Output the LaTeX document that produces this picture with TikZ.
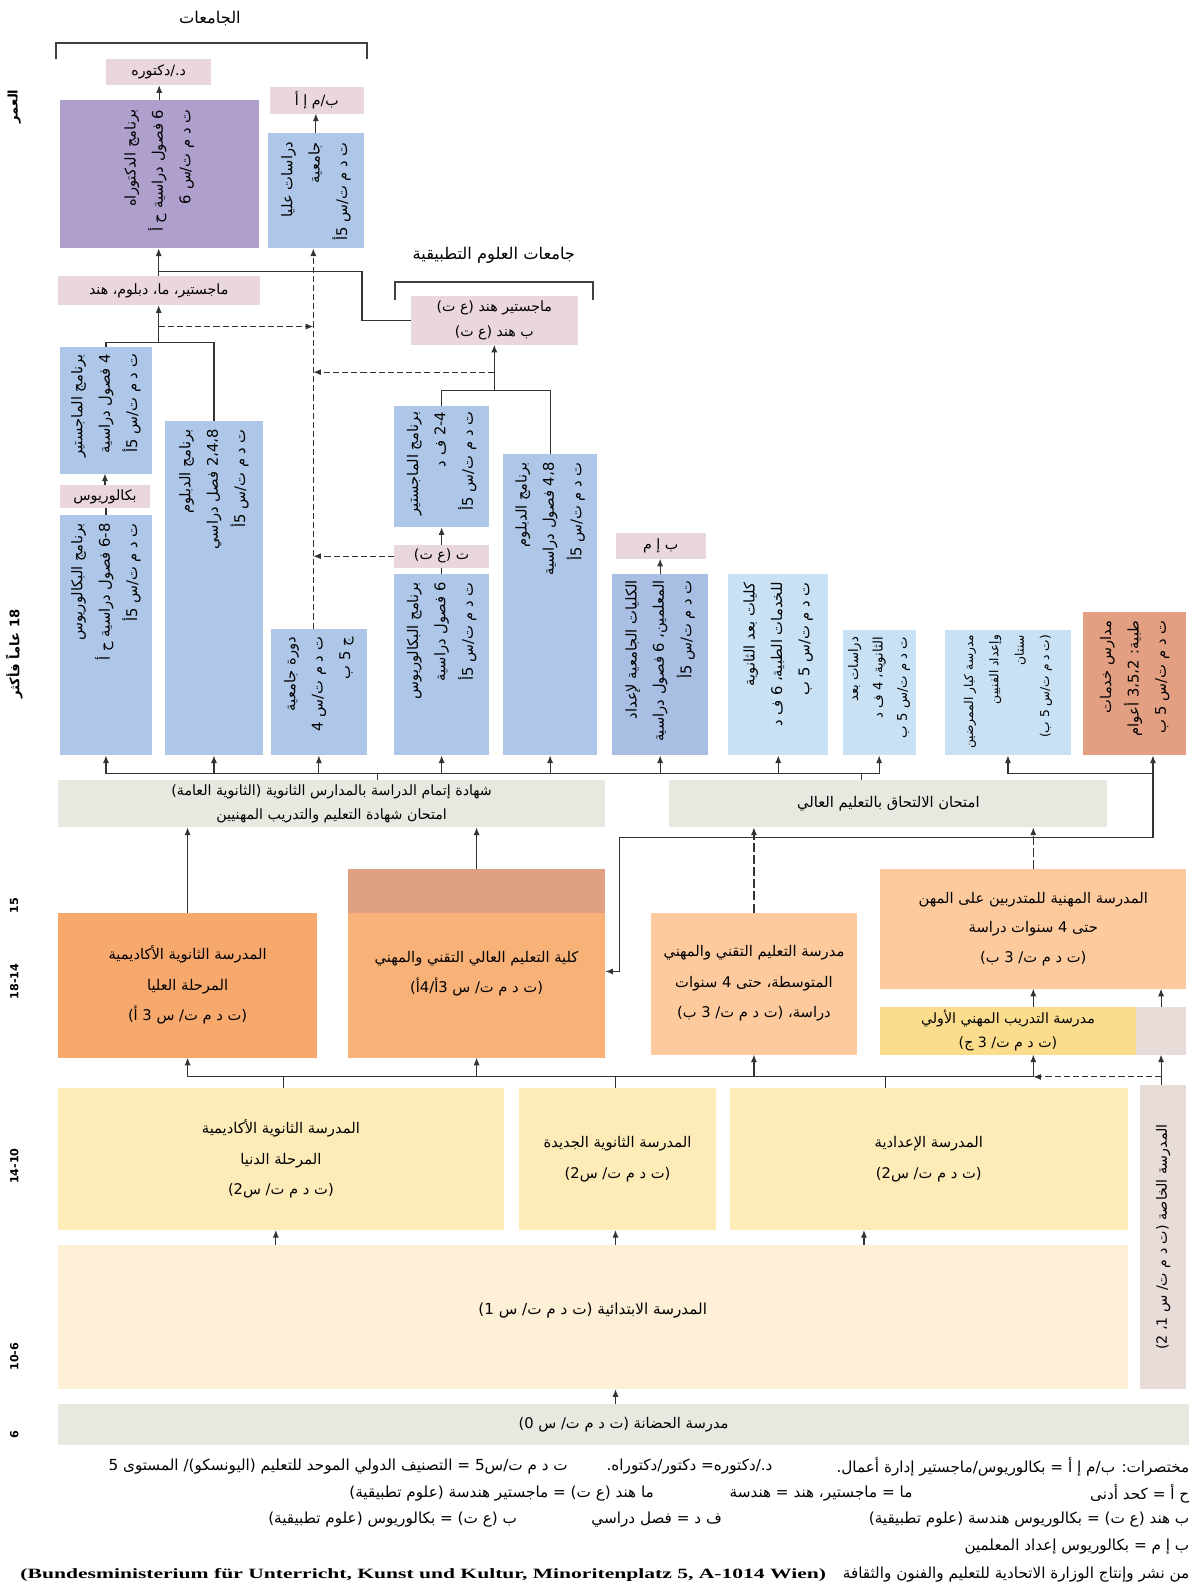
\documentclass[tikz,border=0pt]{standalone}
\usepackage{fontspec}
\setmainfont{DejaVu Sans}[Script=Arabic]
\newfontfamily\latinbf{Liberation Serif}
\TeXXeTstate=1
\usetikzlibrary{arrows.meta}
\pgfdeclarelayer{bg}
\pgfsetlayers{bg,main}
\newcommand\ar[1]{\beginR #1\endR}
\definecolor{cpink}{HTML}{EAD6DF}
\definecolor{cpurple}{HTML}{AF9FCC}
\definecolor{cblue}{HTML}{AEC7E8}
\definecolor{cbluedk}{HTML}{A8BEE3}
\definecolor{clight}{HTML}{C8E1F5}
\definecolor{csalmon}{HTML}{E29F82}
\definecolor{cgrey}{HTML}{E8E8E0}
\definecolor{corange}{HTML}{F7A86C}
\definecolor{cbhstop}{HTML}{DFA084}
\definecolor{cbhs}{HTML}{F8B278}
\definecolor{clorange}{HTML}{FDCA9D}
\definecolor{cyellow}{HTML}{FCDD8E}
\definecolor{cgreypink}{HTML}{E8DCD8}
\definecolor{cpale}{HTML}{FDEBB8}
\definecolor{cvpale}{HTML}{FDF0D6}
\definecolor{cline}{HTML}{333333}
\newcommand\bx[6]{\node[box, fill=#2, minimum width={(#5-#3)*1pt}, minimum height={(#6-#4)*1pt}] (#1) at (#3,#4) {};}
\begin{document}
\begin{tikzpicture}[x=1pt,y=-1pt,
  box/.style={draw=none, inner sep=0pt, outer sep=0pt, anchor=north west},
  conn/.style={draw=cline, line width=1.1pt},
  arr/.style={conn, -{Latex[length=7.5pt,width=6pt]}},
  dsh/.style={conn, dash pattern=on 6pt off 3pt},
  darr/.style={dsh, -{Latex[length=7.5pt,width=6pt]}},
  dlong/.style={conn, dash pattern=on 9pt off 3pt, -{Latex[length=7.5pt,width=6pt]}},
  vtext/.style={rotate=90, anchor=east, align=right, inner sep=0pt, font=\fontsize{14.5}{27}\selectfont},
  htext/.style={align=center, inner sep=0pt, font=\fontsize{14.5}{30}\selectfont},
  lab/.style={align=center, inner sep=0pt, font=\fontsize{14}{24}\selectfont},
  leg/.style={inner sep=0pt, anchor=east, font=\fontsize{15}{17}\selectfont},
  brk/.style={draw=black!75, line width=2pt},
  age/.style={rotate=90, inner sep=0pt, font=\bfseries\fontsize{11}{12}\selectfont}
]
\useasboundingbox[fill=white] (0,0) rectangle (1173,1568);

% ---------- boxes ----------
\bx{phdlab}{cpink}{105}{58}{208}{84}
\bx{phd}{cpurple}{59}{99}{255}{245}
\bx{mbalab}{cpink}{266}{86}{359}{112}
\bx{postgr}{cblue}{264}{131}{359}{245}
\bx{unimlab}{cpink}{57}{272}{256}{301}
\bx{fhmlab}{cpink}{405}{292}{570}{340}
\bx{unimaster}{cblue}{59}{342}{150}{467}
\bx{unibalab}{cpink}{59}{478}{148}{501}
\bx{uniba}{cblue}{59}{508}{150}{745}
\bx{unidipl}{cblue}{163}{415}{259}{745}
\bx{unikurs}{cblue}{267}{620}{362}{745}
\bx{fhmaster}{cblue}{389}{400}{482}{520}
\bx{fhbalab}{cpink}{389}{537}{482}{560}
\bx{fhba}{cblue}{389}{566}{482}{745}
\bx{fhdipl}{cblue}{496}{448}{589}{745}
\bx{phlab}{cpink}{607}{526}{696}{551}
\bx{ph}{cbluedk}{604}{566}{698}{745}
\bx{medcol}{clight}{718}{566}{817}{745}
\bx{postsec}{clight}{831}{621}{903}{745}
\bx{nurse}{clight}{932}{621}{1056}{745}
\bx{medsch}{csalmon}{1068}{604}{1170}{745}
\bx{matura}{cgrey}{57}{769}{597}{816}
\bx{studb}{cgrey}{660}{769}{1092}{816}
\bx{ahso}{corange}{57}{900}{313}{1043}
\bx{bhstop}{cbhstop}{343}{857}{597}{900}
\bx{bhs}{cbhs}{343}{900}{597}{1043}
\bx{fachs}{clorange}{642}{900}{845}{1040}
\bx{berufs}{clorange}{868}{857}{1170}{975}
\bx{lehre}{cyellow}{868}{993}{1120}{1040}
\bx{poly}{cgreypink}{1120}{993}{1170}{1040}
\bx{ahsu}{cpale}{57}{1073}{497}{1213}
\bx{nms}{cpale}{512}{1073}{706}{1213}
\bx{hs}{cpale}{720}{1073}{1112}{1213}
\bx{sonder}{cgreypink}{1124}{1070}{1170}{1370}
\bx{vs}{cvpale}{57}{1228}{1112}{1370}
\bx{kg}{cgrey}{57}{1385}{1173}{1425}

% ---------- titles and brackets ----------
\node[font=\fontsize{16}{18}\selectfont] (unis) at (207,18) {\ar{الجامعات}};
\draw[brk] (55,58) -- (55,42) -- (362,42) -- (362,58);
\node[font=\fontsize{16}{18}\selectfont] (fhs) at (487,252) {\ar{جامعات العلوم التطبيقية}};
\draw[brk] (390,296) -- (390,278) -- (585,278) -- (585,296);

% ---------- age axis ----------
\node[rotate=90, font=\bfseries\fontsize{13}{14}\selectfont] (ageT) at (14,105) {\ar{العمر}};
\node[rotate=90, font=\bfseries\fontsize{13}{14}\selectfont] (age18) at (14,645) {\ar{18 عاماً فأكثر}};
\node[age] (a15) at (14,893) {15};
\node[age] (a1418) at (14,968) {18-14};
\node[age] (a1014) at (14,1150) {14-10};
\node[age] (a610) at (14,1338) {10-6};
\node[age] (a6) at (14,1415) {6};

% ---------- label texts ----------
\node[lab] (phdlabT) at (phdlab) {\ar{د./دكتوره}};
\node[lab] (mbalabT) at (mbalab) {\ar{ب/م إ أ}};
\node[lab] (unimlabT) at (unimlab) {\ar{ماجستير، ما، دبلوم، هند}};
\node[lab] (fhmlabT) at (fhmlab) {\ar{ماجستير هند (ع ت)}\\\ar{ب هند (ع ت)}};
\node[lab] (unibalabT) at (unibalab) {\ar{بكالوريوس}};
\node[lab] (fhbalabT) at (fhbalab) {\ar{ت (ع ت)}};
\node[lab] (phlabT) at (phlab) {\ar{ب إ م}};

% ---------- rotated programme texts ----------
\node[vtext] (phdT) at ([yshift=-9pt]phd.north) {\ar{برنامج الدكتوراه}\\\ar{6 فصول دراسية ح أ}\\\ar{ت د م ت/س 6}};
\node[vtext] (postgrT) at ([yshift=-9pt]postgr.north) {\ar{دراسات عليا}\\\ar{جامعية}\\\ar{ت د م ت/س 5أ}};
\node[vtext] (unimasterT) at ([yshift=-7pt]unimaster.north) {\ar{برنامج الماجستير}\\\ar{4 فصول دراسية}\\\ar{ت د م ت/س 5أ}};
\node[vtext] (unibaT) at ([yshift=-8pt]uniba.north) {\ar{برنامج البكالوريوس}\\\ar{6-8 فصول دراسية ح أ}\\\ar{ت د م ت/س 5أ}};
\node[vtext] (unidiplT) at ([yshift=-8pt]unidipl.north) {\ar{برنامج الدبلوم}\\\ar{2،4،8 فصل دراسي}\\\ar{ت د م ت/س 5أ}};
\node[vtext] (unikursT) at ([yshift=-8pt]unikurs.north) {\ar{دورة جامعية}\\\ar{ت د م ت/س 4}\\\ar{ج 5 ب}};
\node[vtext] (fhmasterT) at ([yshift=-6pt]fhmaster.north) {\ar{برنامج الماجستير}\\\ar{2-4 ف د}\\\ar{ت د م ت/س 5أ}};
\node[vtext] (fhbaT) at ([yshift=-8pt]fhba.north) {\ar{برنامج البكالوريوس}\\\ar{6 فصول دراسية}\\\ar{ت د م ت/س 5أ}};
\node[vtext] (fhdiplT) at ([yshift=-8pt]fhdipl.north) {\ar{برنامج الدبلوم}\\\ar{4،8 فصول دراسية}\\\ar{ت د م ت/س 5أ}};
\node[vtext] (phT) at ([yshift=-6pt]ph.north) {\ar{الكليات الجامعية لإعداد}\\\ar{المعلمين، 6 فصول دراسية}\\\ar{ت د م ت/س 5أ}};
\node[vtext] (medcolT) at ([yshift=-8pt]medcol.north) {\ar{كليات بعد الثانوية}\\\ar{للخدمات الطبية، 6 ف د}\\\ar{ت د م ت/س 5 ب}};
\node[vtext, font=\fontsize{13}{24}\selectfont] (postsecT) at ([yshift=-7pt]postsec.north) {\ar{دراسات بعد}\\\ar{الثانوية، 4 ف د}\\\ar{ت د م ت/س 5 ب}};
\node[vtext, font=\fontsize{12}{25}\selectfont] (nurseT) at ([yshift=-5pt]nurse.north) {\ar{مدرسة كبار الممرضين}\\\ar{وإعداد الفنيين}\\\ar{سنتان}\\\ar{(ت د م ت/س 5 ب)}};
\node[vtext] (medschT) at ([yshift=-8pt]medsch.north) {\ar{مدارس خدمات}\\\ar{طبية: 3،5،2 أعوام}\\\ar{ت د م ت/س 5 ب}};

% ---------- horizontal texts ----------
\node[htext, font=\fontsize{14}{24}\selectfont] (maturaT) at (matura) {\ar{شهادة إتمام الدراسة بالمدارس الثانوية (الثانوية العامة)}\\\ar{امتحان شهادة التعليم والتدريب المهنيين}};
\node[htext] (studbT) at (studb) {\ar{امتحان الالتحاق بالتعليم العالي}};
\node[htext] (ahsoT) at (ahso) {\ar{المدرسة الثانوية الأكاديمية}\\\ar{المرحلة العليا}\\\ar{(ت د م ت/ س 3 أ)}};
\node[htext] (bhsT) at ([yshift=11pt]bhs.center) {\ar{كلية التعليم العالي التقني والمهني}\\\ar{(ت د م ت/ س 3أ/4أ)}};
\node[htext] (fachsT) at (fachs) {\ar{مدرسة التعليم التقني والمهني}\\\ar{المتوسطة، حتى 4 سنوات}\\\ar{دراسة، (ت د م ت/ 3 ب)}};
\node[htext, font=\fontsize{14.5}{29}\selectfont] (berufsT) at (berufs) {\ar{المدرسة المهنية للمتدربين على المهن}\\\ar{حتى 4 سنوات دراسة}\\\ar{(ت د م ت/ 3 ب)}};
\node[htext, font=\fontsize{14}{24}\selectfont] (lehreT) at (lehre) {\ar{مدرسة التدريب المهني الأولي}\\\ar{(ت د م ت/ 3 ج)}};
\node[htext] (ahsuT) at (ahsu) {\ar{المدرسة الثانوية الأكاديمية}\\\ar{المرحلة الدنيا}\\\ar{(ت د م ت/ س2)}};
\node[htext] (nmsT) at (nms) {\ar{المدرسة الثانوية الجديدة}\\\ar{(ت د م ت/ س2)}};
\node[htext] (hsT) at (hs) {\ar{المدرسة الإعدادية}\\\ar{(ت د م ت/ س2)}};
\node[htext, font=\fontsize{15}{30}\selectfont] (vsT) at ([yshift=7pt]vs.center) {\ar{المدرسة الابتدائية (ت د م ت/ س 1)}};
\node[htext] (kgT) at (kg) {\ar{مدرسة الحضانة (ت د م ت/ س 0)}};
\node[htext, rotate=90, font=\fontsize{14}{16}\selectfont] (sonderT) at (sonder) {\ar{المدرسة الخاصة (ت د م ت/ س 1، 2)}};

% ---------- coordinates ----------
\coordinate (dv) at (309,400);
\coordinate (jA) at (unimlab.south |- 0,338);
\coordinate (jF) at (fhmlab.south |- 0,385);
\coordinate (j1) at (357,268);
\coordinate (r1) at (0,763);
\coordinate (cR) at (1137,763);
\coordinate (kR) at (611,826);
\coordinate (bhsin) at (bhs.east |- 0,958);
\coordinate (tL) at (372,763);
\coordinate (tR) at (850,763);
\coordinate (r2) at (0,1062);
\coordinate (t1) at (280,1062);
\coordinate (t2) at (607,1062);
\coordinate (t3) at (873,1062);
\coordinate (a1) at (272,1220);
\coordinate (a2) at (607,1220);
\coordinate (a3) at (852,1220);

% ---------- connectors behind boxes ----------
\begin{pgfonlayer}{bg}
\draw[darr] (unibalab.east) -- (unibalab.east -| dv);
\end{pgfonlayer}

% ---------- upper connectors ----------
\draw[arr] (phd.north) -- (phd.north |- phdlab.south);
\draw[arr] (postgr.south |- mbalab.south) ++(0,19) -- (postgr.south |- mbalab.south);
\draw[arr] (unimlab.north) -- (unimlab.north |- phd.south);
\draw[conn] (fhmlab.west) -| (j1) -- (j1 -| unimlab.north);
\draw[darr] (dv |- unikurs.north) -- (dv |- postgr.south);
\draw[darr] (jA |- 0,322) -- (dv |- 0,322);
\draw[conn] (unimaster.north) |- (jA) -| (unidipl.north);
\draw[arr] (jA) -- (unimlab.south);
\draw[arr] (unibalab.north) -- (unibalab.north |- unimaster.south);
\draw[conn] (uniba.north) -- (uniba.north |- unibalab.south);
\draw[conn] (fhmaster.north) |- (jF) -| (fhdipl.north);
\draw[arr] (jF) -- (fhmlab.south);
\draw[darr] (jF |- 0,367) -- (dv |- 0,367);
\draw[darr] (fhbalab.west) -- (fhbalab.west -| dv);
\draw[arr] (fhbalab.north) -- (fhbalab.north |- fhmaster.south);
\draw[conn] (fhba.north) -- (fhba.north |- fhbalab.south);
\draw[arr] (ph.north) -- (ph.north |- phlab.south);

% ---------- row above exams ----------
\draw[conn] (uniba.south |- r1) -- (postsec.south |- r1);
\foreach \n in {uniba,unidipl,unikurs,fhba,fhdipl,ph,medcol,postsec}{
  \draw[arr] (\n.south |- r1) -- (\n.south);
}
\draw[conn] (nurse.south |- r1) -- (cR);
\draw[arr] (nurse.south |- r1) -- (nurse.south);
\draw[arr] (cR) -- (cR |- medsch.south);
\draw[arr] (cR) |- (kR) -- (kR |- bhsin) -- (bhsin);
\draw[conn] (matura.north -| tL) -- (tL);
\draw[conn] (studb.north -| tR) -- (tR);

% ---------- vocational to exams ----------
\draw[arr] (ahso.north) -- (ahso.north |- matura.south);
\draw[arr] (bhstop.north) -- (bhstop.north |- matura.south);
\draw[dlong] (fachs.north) -- (fachs.north |- studb.south);
\draw[dlong] (berufs.north) -- (berufs.north |- studb.south);

% ---------- row below vocational ----------
\draw[conn] (ahso.south |- r2) -- (berufs.south |- r2);
\draw[arr] (ahso.south |- r2) -- (ahso.south);
\draw[arr] (bhs.south |- r2) -- (bhs.south);
\draw[arr] (fachs.south |- r2) -- (fachs.south);
\draw[arr] (berufs.south |- r2) -- (berufs.south |- lehre.south);
\draw[arr] (lehre.north -| berufs.south) -- (berufs.south);
\draw[arr] (poly.north) -- (poly.north |- berufs.south);
\draw[arr] (poly.south |- sonder.north) -- (poly.south);
\draw[darr] (poly.south |- r2) -- (berufs.south |- r2);
\draw[conn] (ahsu.north -| t1) -- (t1);
\draw[conn] (nms.north -| t2) -- (t2);
\draw[conn] (hs.north -| t3) -- (t3);

% ---------- primary / kindergarten ----------
\draw[arr] (vs.north -| a1) -- (a1 |- ahsu.south);
\draw[arr] (vs.north -| a2) -- (a2 |- nms.south);
\draw[arr] (vs.north -| a3) -- (a3 |- hs.south);
\draw[arr] (kg.north -| a2) -- (a2 |- vs.south);

% ---------- legend ----------
\node[leg] (lg1a) at (1173,1446) {\ar{مختصرات: ب/م إ أ = بكالوريوس/ماجستير إدارة أعمال.}};
\node[leg] (lg1b) at (762,1446) {\ar{د./دكتوره= دكتور/دكتوراه.}};
\node[leg] (lg1c) at (560,1446) {\ar{ت د م ت/س5 = التصنيف الدولي الموحد للتعليم (اليونسكو)/ المستوى 5}};
\node[leg] (lg2a) at (1173,1473) {\ar{ح أ = كحد أدنى}};
\node[leg] (lg2b) at (900,1473) {\ar{ما = ماجستير، هند = هندسة}};
\node[leg] (lg2c) at (645,1473) {\ar{ما هند (ع ت) = ماجستير هندسة (علوم تطبيقية)}};
\node[leg] (lg3a) at (1173,1499) {\ar{ب هند (ع ت) = بكالوريوس هندسة (علوم تطبيقية)}};
\node[leg] (lg3b) at (712,1499) {\ar{ف د = فصل دراسي}};
\node[leg] (lg3c) at (510,1499) {\ar{ب (ع ت) = بكالوريوس (علوم تطبيقية)}};
\node[leg] (lg4) at (1173,1525) {\ar{ب إ م = بكالوريوس إعداد المعلمين}};
\node[leg] (lg5a) at (1173,1553) {\ar{من نشر وإنتاج الوزارة الاتحادية للتعليم والفنون والثقافة}};
\node[leg, font=\latinbf\bfseries\fontsize{14}{16}\selectfont, xscale=1.52] (lg5b) at (815,1553) {(Bundesministerium für Unterricht, Kunst und Kultur, Minoritenplatz 5, A-1014 Wien)};
\end{tikzpicture}
\end{document}
